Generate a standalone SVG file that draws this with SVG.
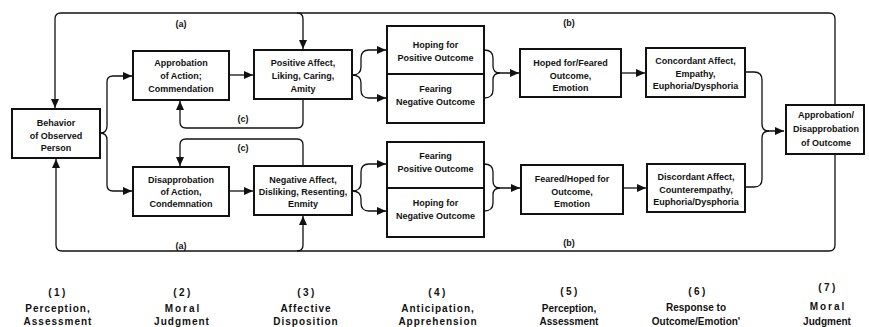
<svg xmlns="http://www.w3.org/2000/svg" width="869" height="327" viewBox="0 0 869 327">
<style>
.box{fill:#fff;stroke:#111;stroke-width:2}
.t{font-family:"Liberation Sans",Arial,sans-serif;font-size:9px;font-weight:bold;fill:#111;text-anchor:middle}
.c{fill:none;stroke:#111;stroke-width:1.3}
.ar{marker-end:url(#ah)}
.lab{font-family:"Liberation Sans",Arial,sans-serif;font-size:10px;font-weight:bold;fill:#111;text-anchor:middle;letter-spacing:1px}
.num{letter-spacing:2.5px}
.wide{letter-spacing:2px}
.tight{letter-spacing:0}
</style>
<defs>
<marker id="ah" markerUnits="userSpaceOnUse" markerWidth="9" markerHeight="8" refX="9" refY="4" orient="auto">
<path d="M0,0 L9,4 L0,8 z" fill="#111"/>
</marker>
</defs>
<rect width="869" height="327" fill="#fff"/>

<g id="connectors">
<path class="c ar" d="M835,105 L835,19 Q835,13 829,13 L61,13 Q55,13 55,19 L55,108"/>
<path class="c ar" d="M297,13 Q303,13 303,19 L303,49"/>
<path class="c ar" d="M303,99 L303,122 Q303,128 297,128 L186,128 Q180,128 180,122 L180,101"/>
<path class="c ar" d="M303,166 L303,145 Q303,139 297,139 L186,139 Q180,139 180,145 L180,166"/>
<path class="c ar" d="M100,133 Q107,133 107,126 L107,82 Q107,76 113,76 L132,76"/>
<path class="c ar" d="M100,133 Q107,133 107,140 L107,185 Q107,191 113,191 L132,191"/>
<path class="c ar" d="M229,75 L253,75"/>
<path class="c ar" d="M229,191 L253,191"/>
<path class="c ar" d="M352,75 Q361,75 361,67 L361,58 Q361,50 369,50 L386,50"/>
<path class="c ar" d="M352,75 Q361,75 361,83 L361,90 Q361,98 369,98 L386,98"/>
<path class="c ar" d="M352,191 Q361,191 361,183 L361,172 Q361,164 369,164 L386,164"/>
<path class="c ar" d="M352,191 Q361,191 361,199 L361,203 Q361,211 369,211 L386,211"/>
<path class="c ar" d="M484,50 Q493,50 493,58 L493,66 Q493,73 500,73 L519,73"/>
<path class="c" d="M484,98 Q493,98 493,90 L493,80 Q493,73 500,73"/>
<path class="c ar" d="M484,164 Q493,164 493,172 L493,181 Q493,188 500,188 L520,188"/>
<path class="c" d="M484,211 Q493,211 493,203 L493,195 Q493,188 500,188"/>
<path class="c ar" d="M621,73 L645,73"/>
<path class="c ar" d="M623,188 L646,188"/>
<path class="c ar" d="M745,72 L754,72 Q762,72 762,80 L762,124 Q762,131 769,131 L784,131"/>
<path class="c" d="M745,187 L754,187 Q762,187 762,179 L762,138 Q762,131 769,131"/>
<path class="c ar" d="M835,153 L835,245 Q835,251 829,251 L62,251 Q56,251 56,245 L56,159"/>
<path class="c ar" d="M297,251 Q303,251 303,245 L303,216"/>
<text class="t" x="181" y="27">(a)</text>
<text class="t" x="569" y="26">(b)</text>
<text class="t" x="243" y="122">(c)</text>
<text class="t" x="243" y="151">(c)</text>
<text class="t" x="181" y="249">(a)</text>
<text class="t" x="569" y="246">(b)</text>
</g>

<g id="behavior">
<rect class="box" x="12" y="109" width="88" height="49"/>
<text class="t" x="56" y="126">Behavior</text>
<text class="t" x="56" y="139">of Observed</text>
<text class="t" x="56" y="151">Person</text>
</g>
<g id="approbation-action">
<rect class="box" x="133" y="51" width="96" height="49"/>
<text class="t" x="181" y="66">Approbation</text>
<text class="t" x="181" y="79">of  Action;</text>
<text class="t" x="181" y="92">Commendation</text>
</g>
<g id="disapprobation-action">
<rect class="box" x="133" y="167" width="96" height="49"/>
<text class="t" x="181" y="183">Disapprobation</text>
<text class="t" x="181" y="195">of  Action,</text>
<text class="t" x="181" y="207">Condemnation</text>
</g>
<g id="positive-affect">
<rect class="box" x="254" y="50" width="98" height="49"/>
<text class="t" x="303" y="66">Positive  Affect,</text>
<text class="t" x="303" y="79">Liking,  Caring,</text>
<text class="t" x="303" y="92">Amity</text>
</g>
<g id="negative-affect">
<rect class="box" x="254" y="166" width="98" height="49"/>
<text class="t" x="303" y="183">Negative  Affect,</text>
<text class="t" x="303" y="195">Disliking,  Resenting,</text>
<text class="t" x="303" y="207">Enmity</text>
</g>
<g id="hoping-positive">
<rect class="box" x="387" y="26" width="97" height="48"/>
<text class="t" x="435.5" y="48">Hoping for</text>
<text class="t" x="435.5" y="61">Positive  Outcome</text>
</g>
<g id="fearing-negative">
<rect class="box" x="387" y="74" width="97" height="49"/>
<text class="t" x="435.5" y="92">Fearing</text>
<text class="t" x="435.5" y="105">Negative  Outcome</text>
</g>
<g id="fearing-positive">
<rect class="box" x="387" y="142" width="97" height="46"/>
<text class="t" x="435.5" y="159">Fearing</text>
<text class="t" x="435.5" y="172">Positive  Outcome</text>
</g>
<g id="hoping-negative">
<rect class="box" x="387" y="188" width="97" height="49"/>
<text class="t" x="435.5" y="206">Hoping for</text>
<text class="t" x="435.5" y="219">Negative  Outcome</text>
</g>
<g id="hoped-feared">
<rect class="box" x="520" y="49" width="101" height="48"/>
<text class="t" x="570.5" y="66">Hoped  for/Feared</text>
<text class="t" x="570.5" y="79">Outcome,</text>
<text class="t" x="570.5" y="91">Emotion</text>
</g>
<g id="feared-hoped">
<rect class="box" x="521" y="165" width="102" height="49"/>
<text class="t" x="572" y="182">Feared/Hoped  for</text>
<text class="t" x="572" y="195">Outcome,</text>
<text class="t" x="572" y="207">Emotion</text>
</g>
<g id="concordant">
<rect class="box" x="646" y="48" width="99" height="49"/>
<text class="t" x="695.5" y="64">Concordant  Affect,</text>
<text class="t" x="695.5" y="76.5">Empathy,</text>
<text class="t" x="695.5" y="89">Euphoria/Dysphoria</text>
</g>
<g id="discordant">
<rect class="box" x="647" y="164" width="98" height="48"/>
<text class="t" x="696" y="180">Discordant  Affect,</text>
<text class="t" x="696" y="192.5">Counterempathy,</text>
<text class="t" x="696" y="205">Euphoria/Dysphoria</text>
</g>
<g id="outcome-judgment">
<rect class="box" x="786" y="105" width="78" height="49"/>
<text class="t" x="826" y="118">Approbation/</text>
<text class="t" x="826" y="132">Disapprobation</text>
<text class="t" x="826" y="146">of Outcome</text>
</g>

<g id="stages">
<text class="lab num" x="58" y="296">(1)</text>
<text class="lab" x="58" y="312">Perception,</text>
<text class="lab" x="58" y="325">Assessment</text>
<text class="lab num" x="183" y="296">(2)</text>
<text class="lab wide" x="183" y="312">Moral</text>
<text class="lab" x="182" y="325">Judgment</text>
<text class="lab num" x="307" y="295.5">(3)</text>
<text class="lab" x="306" y="311.5">Affective</text>
<text class="lab" x="306" y="325">Disposition</text>
<text class="lab num" x="438" y="295.5">(4)</text>
<text class="lab" x="438" y="311.5">Anticipation,</text>
<text class="lab" x="438" y="325">Apprehension</text>
<text class="lab num" x="570" y="295">(5)</text>
<text class="lab tight" x="569" y="311.5">Perception,</text>
<text class="lab tight" x="569" y="325">Assessment</text>
<text class="lab num" x="698" y="294.5">(6)</text>
<text class="lab tight" x="696" y="311">Response to</text>
<text class="lab tight" x="696" y="325">Outcome/Emotion'</text>
<text class="lab num" x="828" y="290.5">(7)</text>
<text class="lab wide" x="828" y="309.5">Moral</text>
<text class="lab tight" x="827" y="324.5">Judgment</text>
</g>
</svg>
